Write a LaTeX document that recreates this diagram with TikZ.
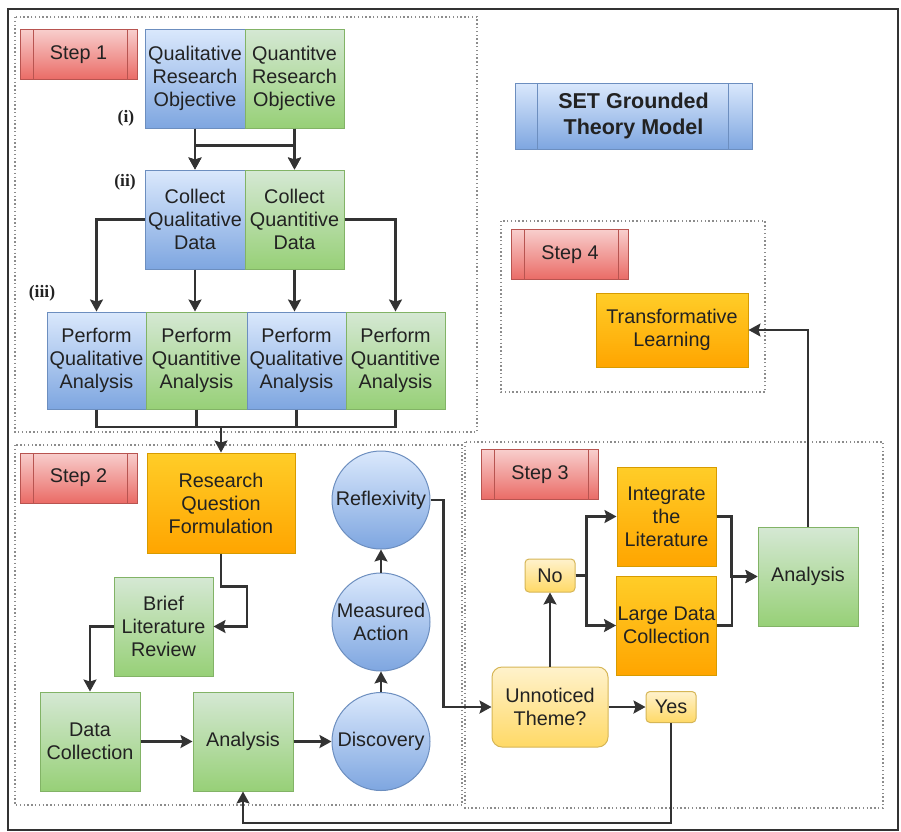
\documentclass[tikz,border=0pt]{standalone}
\usepackage{fontspec}
\setmainfont{Liberation Sans}
\newfontfamily\numfont{Liberation Serif}
\usetikzlibrary{arrows.meta}

\definecolor{blueTop}{HTML}{DAE8FC}
\definecolor{blueBot}{HTML}{7EA6E0}
\definecolor{blueLine}{HTML}{6C8EBF}
\definecolor{greenTop}{HTML}{D5E8D4}
\definecolor{greenBot}{HTML}{97D077}
\definecolor{greenLine}{HTML}{82B366}
\definecolor{orTop}{HTML}{FFCD28}
\definecolor{orBot}{HTML}{FFA500}
\definecolor{orLine}{HTML}{D79B00}
\definecolor{redTop}{HTML}{F8CECC}
\definecolor{redBot}{HTML}{EA6B66}
\definecolor{redLine}{HTML}{B85450}
\definecolor{yelTop}{HTML}{FFF2CC}
\definecolor{yelBot}{HTML}{FFD966}
\definecolor{yelLine}{HTML}{D6B656}
\definecolor{ink}{HTML}{222222}
\definecolor{wire}{HTML}{333333}

\tikzset{
  txt/.style={font=\fontsize{19.8}{23}\selectfont, text=ink, align=center, inner sep=1pt},
  box/.style={txt, draw, line width=1pt, shading=axis, shading angle=0},
  bluebox/.style={box, draw=blueLine, top color=blueTop, bottom color=blueBot},
  greenbox/.style={box, draw=greenLine, top color=greenTop, bottom color=greenBot},
  orangebox/.style={box, draw=orLine, top color=orTop, bottom color=orBot},
  yellowbox/.style={box, draw=yelLine, top color=yelTop, bottom color=yelBot},
  bluecircle/.style={bluebox, circle, inner sep=0pt, minimum size=98pt},
  sideframe/.style 2 args={path picture={
      \draw[line width=1pt] ([xshift=#1pt]path picture bounding box.north west)
        -- ([xshift=#1pt]path picture bounding box.south west);
      \draw[line width=1pt] ([xshift=-#2pt]path picture bounding box.north east)
        -- ([xshift=-#2pt]path picture bounding box.south east);}},
  steplabel/.style={box, draw=redLine, top color=redTop, bottom color=redBot,
      minimum width=117pt, minimum height=50pt, sideframe={13}{10}},
  region/.style={draw=black!45, line width=1.4pt, dash pattern=on 1.4pt off 2.4pt},
  wireline/.style={draw=wire, line width=2.2pt},
  arr/.style={wireline, -{Stealth[length=12pt, width=13pt, inset=2pt]}},
  roman/.style={font=\numfont\bfseries\fontsize{17.5}{19}\selectfont, text=ink, inner sep=0pt},
}

\begin{document}
\begin{tikzpicture}[x=1pt, y=-1pt]
\useasboundingbox (0,0) rectangle (901,831);
\fill[white] (0,0) rectangle (901,831);

% outer frame
\draw[black!80, line width=2pt] (8,9) rectangle (898,830);

% step regions
\draw[region] (15,17) rectangle (477,432);
\draw[region] (15,445) rectangle (462,805);
\draw[region] (465,442) rectangle (883,808);
\draw[region] (501,221) rectangle (765,392);

% title
\node[box, draw=blueLine, top color=blueTop, bottom color=blueBot,
      minimum width=237pt, minimum height=66pt, sideframe={22}{24},
      font=\fontsize{21.5}{26}\selectfont\bfseries] (title) at (633.5,116)
      {SET Grounded\\Theory Model};

% step labels
\node[steplabel] (s1) at (78.5,54.5) {Step 1};
\node[steplabel] (s2) at (78.5,478) {Step 2};
\node[steplabel] (s3) at (540,474.5) {Step 3};
\node[steplabel] (s4) at (570,254.5) {Step 4};

% step 1
\node[bluebox, minimum width=100pt, minimum height=99pt] (q1) at (195,78.5)
  {Qualitative\\Research\\Objective};
\node[greenbox, minimum width=99pt, minimum height=99pt] (q2) at (294.5,78.5)
  {Quantitve\\Research\\Objective};
\node[bluebox, minimum width=100pt, minimum height=99pt] (c1) at (195,219.5)
  {Collect\\Qualitative\\Data};
\node[greenbox, minimum width=99pt, minimum height=99pt] (c2) at (294.5,219.5)
  {Collect\\Quantitive\\Data};
\node[bluebox, minimum width=99pt, minimum height=97pt] (p1) at (96.5,360.5)
  {Perform\\Qualitative\\Analysis};
\node[greenbox, minimum width=101pt, minimum height=97pt] (p2) at (196.5,360.5)
  {Perform\\Quantitive\\Analysis};
\node[bluebox, minimum width=99pt, minimum height=97pt] (p3) at (296.5,360.5)
  {Perform\\Qualitative\\Analysis};
\node[greenbox, minimum width=99pt, minimum height=97pt] (p4) at (395.5,360.5)
  {Perform\\Quantitive\\Analysis};

\node[roman] (r1) at (126,118) {(i)};
\node[roman] (r2) at (125,182) {(ii)};
\node[roman] (r3) at (42,293) {(iii)};

% step 2
\node[orangebox, minimum width=148pt, minimum height=100pt] (rq) at (221,503)
  {Research\\Question\\Formulation};
\node[greenbox, minimum width=99pt, minimum height=99pt] (brief) at (163.5,626.5)
  {Brief\\Literature\\Review};
\node[greenbox, minimum width=100pt, minimum height=99pt] (dc) at (90,741.5)
  {Data\\Collection};
\node[greenbox, minimum width=100pt, minimum height=99pt] (an) at (243,741.5)
  {Analysis};
\node[bluecircle] (disc) at (381,741.5) {Discovery};
\node[bluecircle] (ma) at (381,622) {Measured\\Action};
\node[bluecircle] (refl) at (381,500) {Reflexivity};

% step 3
\node[yellowbox, rounded corners=10pt, minimum width=116pt, minimum height=80pt] (ut)
  at (550,707) {Unnoticed\\Theme?};
\node[yellowbox, rounded corners=4pt, minimum width=50pt, minimum height=33pt] (no)
  at (550,575.5) {No};
\node[yellowbox, rounded corners=4pt, minimum width=50pt, minimum height=31pt] (yes)
  at (671,707) {Yes};
\node[orangebox, minimum width=99pt, minimum height=99pt] (int) at (666.5,516.5)
  {Integrate\\the\\Literature};
\node[orangebox, minimum width=99pt, minimum height=99pt] (large) at (666.5,625.5)
  {Large Data\\Collection};
\node[greenbox, minimum width=100pt, minimum height=99pt] (an3) at (808,576.5)
  {Analysis};

% step 4
\node[orangebox, minimum width=152pt, minimum height=74pt] (tl) at (672,330)
  {Transformative\\Learning};

% connectors, step 1
\draw[arr] (q1.south) -- (c1.north);
\draw[arr] (q2.south) -- (c2.north);
\draw[arr] (q1.south) -- ++(0,17) -| (c2.north);
\draw[arr] (q2.south) -- ++(0,17) -| (c1.north);
\draw[arr] (c1.west) -| (p1.north);
\draw[arr] (c1.south) -- (c1.south |- p2.north);
\draw[arr] (c2.south) -- (c2.south |- p3.north);
\draw[arr] (c2.east) -| (p4.north);

\coordinate (merge) at (221,427);
\draw[wireline] (p1.south) |- (merge);
\draw[wireline] (p2.south) |- (merge);
\draw[wireline] (p3.south) |- (merge);
\draw[wireline] (p4.south) |- (merge);
\draw[arr] (merge) -- (rq.north);

% connectors, step 2
\draw[arr] (rq.south) |- ++(26,33) |- (brief.east);
\draw[arr] (brief.west) -| (dc.north);
\draw[arr] (dc.east) -- (an.west);
\draw[arr] (an.east) -- (disc.west);
\draw[arr] (disc.north) -- (ma.south);
\draw[arr] (ma.north) -- (refl.south);
\draw[arr] (refl.east) -- ++(13,0) |- (ut.west);

% connectors, step 3
\draw[arr] (ut.north) -- (no.south);
\draw[arr] (ut.east) -- (yes.west);
\draw[arr] (yes.south) -- ++(0,100) -| (an.south);
\draw[arr] (no.east) -- ++(11,0) |- (int.west);
\draw[arr] (no.east) -- ++(11,0) |- (large.west);
\draw[arr] (int.east) -- ++(15,0) |- (an3.west);
\draw[arr] (large.east) -- ++(15,0) |- (an3.west);

% connector to step 4
\draw[arr] (an3.north) |- (tl.east);
\end{tikzpicture}
\end{document}
